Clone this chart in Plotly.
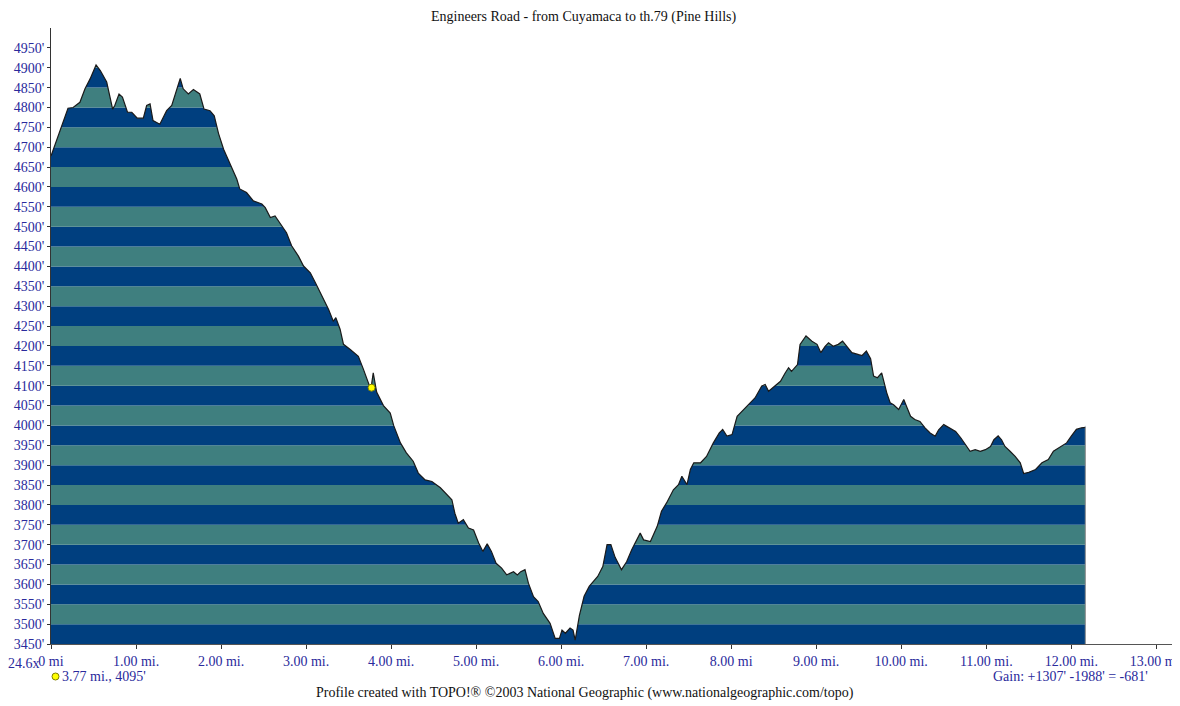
import plotly.graph_objects as go

# ---- data ----
dist_mi = [
    0.00, 0.07, 0.13, 0.20, 0.26, 0.34, 0.40, 0.46, 0.53, 0.58, 0.655, 0.69, 0.725, 0.75, 0.80,
    0.84, 0.90, 0.95, 1.015, 1.086, 1.125, 1.165, 1.20, 1.28, 1.36, 1.42, 1.48, 1.52, 1.555,
    1.615, 1.675, 1.75, 1.80, 1.87, 1.92, 1.97, 2.03, 2.105, 2.185, 2.22, 2.30, 2.38, 2.48,
    2.52, 2.58, 2.635, 2.71, 2.77, 2.83, 2.91, 2.97, 3.05, 3.11, 3.185, 3.265, 3.32, 3.35,
    3.40, 3.44, 3.52, 3.615, 3.675, 3.715, 3.745, 3.765, 3.79, 3.83, 3.91, 3.99, 4.03, 4.11,
    4.18, 4.26, 4.32, 4.40, 4.48, 4.58, 4.675, 4.715, 4.75, 4.79, 4.85, 4.91, 4.97, 5.03,
    5.08, 5.13, 5.18, 5.235, 5.30, 5.36, 5.44, 5.485, 5.525, 5.575, 5.615, 5.675, 5.73, 5.79,
    5.87, 5.93, 5.98, 6.01, 6.05, 6.105, 6.14, 6.165, 6.215, 6.27, 6.33, 6.43, 6.49, 6.54,
    6.585, 6.635, 6.71, 6.77, 6.83, 6.93, 6.97, 7.05, 7.13, 7.18, 7.24, 7.32, 7.38, 7.42,
    7.48, 7.52, 7.56, 7.64, 7.71, 7.79, 7.86, 7.90, 7.95, 8.01, 8.07, 8.13, 8.20, 8.28,
    8.36, 8.40, 8.44, 8.52, 8.58, 8.635, 8.675, 8.71, 8.78, 8.81, 8.88, 8.95, 9.01, 9.055,
    9.105, 9.145, 9.20, 9.26, 9.31, 9.36, 9.42, 9.50, 9.54, 9.59, 9.64, 9.675, 9.72, 9.77,
    9.83, 9.87, 9.91, 9.97, 10.03, 10.07, 10.11, 10.16, 10.22, 10.28, 10.34, 10.40, 10.44,
    10.50, 10.56, 10.64, 10.70, 10.75, 10.81, 10.87, 10.93, 10.99, 11.05, 11.09, 11.14,
    11.18, 11.22, 11.28, 11.34, 11.40, 11.44, 11.50, 11.58, 11.655, 11.73, 11.79, 11.87,
    11.945, 12.00, 12.06, 12.12, 12.165,
]
elev_ft = [
    4678, 4721, 4754, 4798, 4800, 4813, 4847, 4872, 4907, 4893, 4864, 4830, 4796, 4805, 4834,
    4826, 4788, 4788, 4773, 4773, 4805, 4809, 4767, 4758, 4792, 4805, 4843, 4873, 4847,
    4834, 4845, 4834, 4796, 4792, 4779, 4735, 4695, 4658, 4620, 4595, 4586, 4565, 4557,
    4548, 4523, 4527, 4502, 4485, 4452, 4426, 4401, 4384, 4359, 4326, 4292, 4262, 4271,
    4242, 4204, 4191, 4174, 4141, 4115, 4100, 4095, 4132, 4084, 4050, 4031, 4000, 3956,
    3931, 3910, 3880, 3863, 3859, 3843, 3821, 3813, 3779, 3754, 3763, 3742, 3737, 3704,
    3683, 3702, 3683, 3653, 3641, 3624, 3632, 3624, 3632, 3637, 3603, 3569, 3557, 3527,
    3502, 3464, 3464, 3485, 3477, 3490, 3485, 3460, 3522, 3570, 3595, 3620, 3645, 3700,
    3700, 3668, 3637, 3657, 3687, 3729, 3712, 3708, 3746, 3784, 3805, 3838, 3851, 3872,
    3851, 3889, 3906, 3906, 3922, 3956, 3981, 3990, 3973, 3977, 4023, 4036, 4052, 4069,
    4099, 4103, 4086, 4099, 4111, 4132, 4145, 4136, 4153, 4204, 4225, 4212, 4204, 4183,
    4199, 4208, 4199, 4204, 4212, 4199, 4183, 4178, 4176, 4187, 4168, 4124, 4120, 4132,
    4082, 4057, 4052, 4040, 4065, 4044, 4023, 4015, 4010, 3994, 3981, 3973, 3989,
    4002, 3994, 3985, 3969, 3952, 3935, 3939, 3935, 3939, 3947, 3964, 3974,
    3964, 3947, 3935, 3922, 3906, 3879, 3882, 3889, 3906, 3914, 3935, 3947,
    3956, 3973, 3990, 3994, 3995,
]

marker_mi = [3.77]
marker_ft = [4095]

y_tick_vals = [3450, 3500, 3550, 3600, 3650, 3700, 3750, 3800, 3850, 3900, 3950, 4000,
               4050, 4100, 4150, 4200, 4250, 4300, 4350, 4400, 4450, 4500, 4550, 4600,
               4650, 4700, 4750, 4800, 4850, 4900, 4950]
y_tick_text = [f"{v}'" for v in y_tick_vals]

x_tick_vals = [0, 1, 2, 3, 4, 5, 6, 7, 8, 9, 10, 11, 12, 13]
x_tick_text = ["0 mi", "1.00 mi.", "2.00 mi.", "3.00 mi.", "4.00 mi.", "5.00 mi.",
               "6.00 mi.", "7.00 mi.", "8.00 mi", "9.00 mi.", "10.00 mi.", "11.00 mi.",
               "12.00 mi.", "13.00 mi."]

title_text = "Engineers Road - from Cuyamaca to th.79 (Pine Hills)"
footer_text = "Profile created with TOPO!\u00ae \u00a92003 National Geographic (www.nationalgeographic.com/topo)"
gain_text = "Gain: +1307' -1988' = -681'"
scale_text = "24.6x"
cursor_text = "3.77 mi., 4095'"

# ---- styling ----
DARK = "#003f7f"
TEAL = "#3f7f7f"
LABEL = "#2a2a9c"
FONT = "Liberation Serif"
FS = 14
Y_MIN, Y_MAX = 3450, 5000
X_MIN, X_MAX = 0, 13.22

# plot area in window pixels (page body has an 8px margin)
PL, PR, PT, PB = 51, 1175, 28, 644
OFF = 8

fig = go.Figure()

# alternating elevation bands (drawn beneath), limited to the profile's extent
for i in range(len(y_tick_vals) - 1):
    fig.add_shape(type="rect", xref="x", yref="y", layer="below",
                  x0=dist_mi[0], x1=dist_mi[-1],
                  y0=y_tick_vals[i], y1=y_tick_vals[i + 1],
                  fillcolor=DARK if i % 2 == 0 else TEAL, line_width=0)

# invisible top line, then profile with white fill above it (masks the bands)
fig.add_trace(go.Scatter(x=[dist_mi[0], dist_mi[-1]], y=[Y_MAX, Y_MAX], mode="lines",
                         line=dict(width=0), hoverinfo="skip", showlegend=False))
fig.add_trace(go.Scatter(x=dist_mi, y=elev_ft, mode="lines", fill="tonexty",
                         fillcolor="white", line=dict(color="#1a1a1a", width=1.2),
                         showlegend=False))
# hide antialias seam of bands above the profile's end
fig.add_trace(go.Scatter(x=[dist_mi[-1], dist_mi[-1]], y=[elev_ft[-1] + 4, Y_MAX],
                         mode="lines", line=dict(color="white", width=2.5),
                         hoverinfo="skip", showlegend=False))
# right edge of profile
fig.add_trace(go.Scatter(x=[dist_mi[-1], dist_mi[-1]], y=[elev_ft[-1], Y_MIN], mode="lines",
                         line=dict(color="#8a8a8a", width=1), showlegend=False))
# cursor marker
fig.add_trace(go.Scatter(x=marker_mi, y=marker_ft, mode="markers",
                         marker=dict(color="#ffff00", size=7,
                                     line=dict(color="#7f7f00", width=1)),
                         showlegend=False))

fig.update_layout(
    width=1180, height=706,
    margin=dict(l=PL - OFF, r=1180 - (PR - OFF), t=PT - OFF, b=706 - (PB - OFF),
                autoexpand=False),
    paper_bgcolor="white", plot_bgcolor="white",
    font=dict(family=FONT, size=FS, color=LABEL),
    xaxis=dict(range=[X_MIN, X_MAX], tickvals=x_tick_vals, ticktext=x_tick_text,
               showgrid=False, zeroline=False, showline=True, linecolor="#555555",
               linewidth=1, ticks="outside", ticklen=4, tickcolor="#333333",
               automargin=False,
               tickfont=dict(family=FONT, size=FS, color=LABEL)),
    yaxis=dict(range=[Y_MIN, Y_MAX], tickvals=y_tick_vals, ticktext=y_tick_text,
               showgrid=False, zeroline=False, showline=True, linecolor="#333333",
               linewidth=1, ticks="outside", ticklen=3, tickcolor="#333333",
               automargin=False,
               tickfont=dict(family=FONT, size=FS, color=LABEL)),
)

pw, ph = PR - PL, PB - PT


def px(x):
    return (x - PL) / pw


def py(y):
    return (PB - y) / ph


fig.add_annotation(text=title_text, xref="paper", yref="paper", x=px(584), y=py(17),
                   showarrow=False, xanchor="center", yanchor="middle",
                   font=dict(family=FONT, size=FS, color="#111111"))
fig.add_annotation(text=footer_text, xref="paper", yref="paper", x=px(585), y=py(693),
                   showarrow=False, xanchor="center", yanchor="middle",
                   font=dict(family=FONT, size=FS, color="#111111"))
fig.add_annotation(text=scale_text, xref="paper", yref="paper", x=px(6), y=py(663),
                   showarrow=False, xanchor="left", yanchor="middle",
                   font=dict(family=FONT, size=FS, color=LABEL))
fig.add_annotation(text=cursor_text, xref="paper", yref="paper", x=px(60), y=py(676),
                   showarrow=False, xanchor="left", yanchor="middle",
                   font=dict(family=FONT, size=FS, color=LABEL))
fig.add_annotation(text=gain_text, xref="paper", yref="paper", x=px(1150), y=py(676),
                   showarrow=False, xanchor="right", yanchor="middle",
                   font=dict(family=FONT, size=FS, color=LABEL))
fig.add_shape(type="circle", xref="paper", yref="paper",
              x0=px(52), x1=px(59), y0=py(680), y1=py(673),
              fillcolor="#ffff00", line=dict(color="#7f7f00", width=1))

fig.write_html("out.html")
